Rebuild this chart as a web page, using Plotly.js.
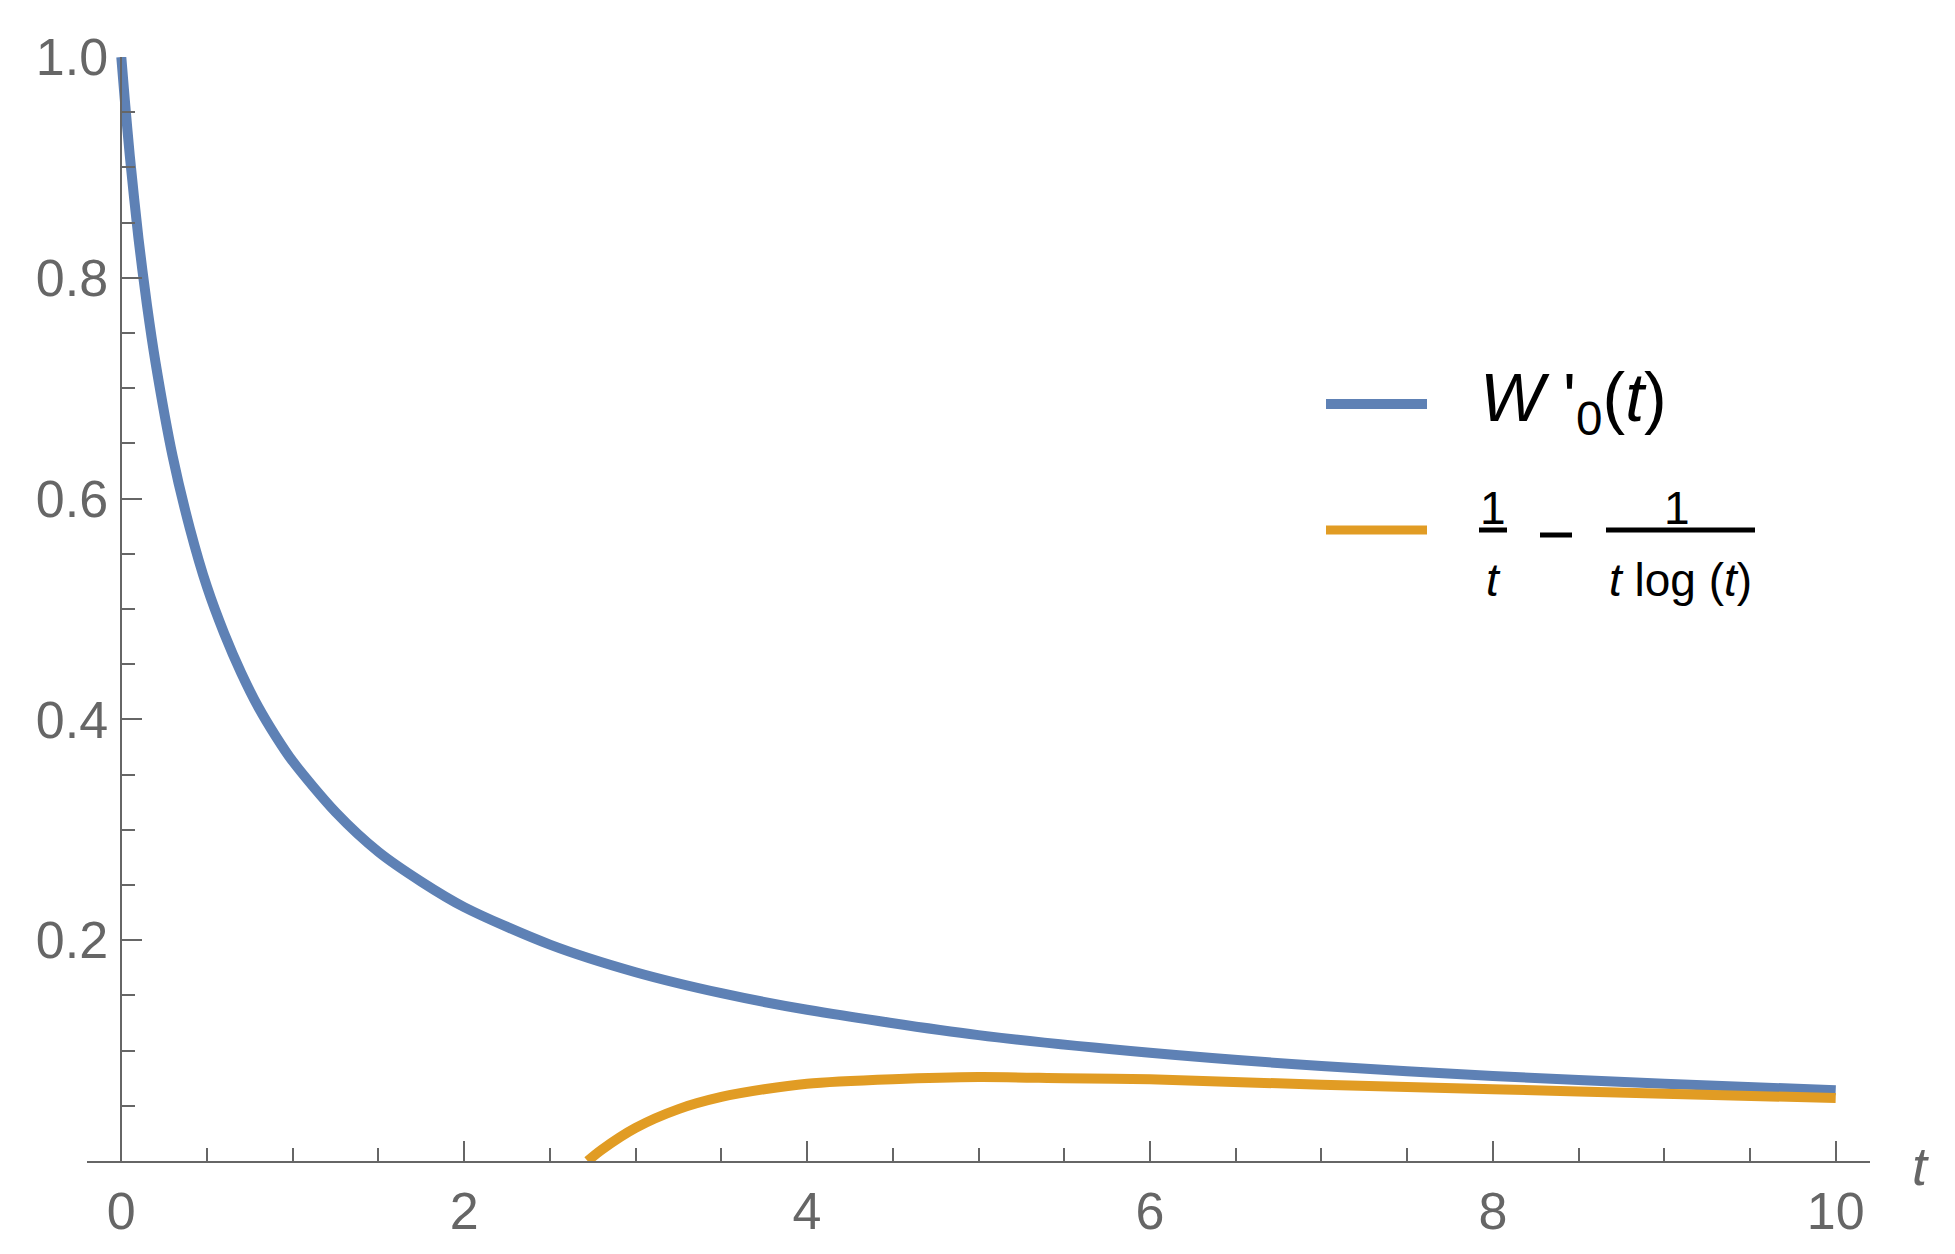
<!DOCTYPE html>
<html>
<head>
<meta charset="utf-8">
<script src="https://cdn.plot.ly/plotly-3.0.1.min.js"></script>
<style>
    body { margin: 0; background: #ffffff; }
    #chart { width: 1955px; height: 1254px; }
</style>
</head>
<body>
<div id="chart"></div>
<script>
// values
var tBlue = [0, 0.02, 0.05, 0.1, 0.15, 0.2, 0.3, 0.4, 0.5, 0.6, 0.7, 0.8, 0.9, 1.0, 1.25, 1.5, 1.75, 2, 2.5, 3, 3.5, 4, 5, 6, 7, 8, 9, 10];
var wBlue = [1.0, 0.962, 0.910, 0.836, 0.775, 0.723, 0.638, 0.573, 0.520, 0.478, 0.442, 0.411, 0.385, 0.362, 0.316, 0.280, 0.253, 0.230, 0.196, 0.171, 0.152, 0.137, 0.114, 0.098, 0.086, 0.077, 0.070, 0.064];

var tOrange = [2.72, 2.8, 3, 3.25, 3.5, 3.75, 4, 4.5, 5, 5.5, 6, 7, 8, 9, 10];
var fOrange = [0, 0.010, 0.030, 0.047, 0.058, 0.065, 0.070, 0.074, 0.076, 0.075, 0.074, 0.069, 0.065, 0.061, 0.057];

var xTicks = [0, 2, 4, 6, 8, 10];
var yTicks = [0.2, 0.4, 0.6, 0.8, 1.0];

var blueColor = '#5E81B5';
var orangeColor = '#E19C24';
var axisGray = '#666666';
var xRange = [-0.2, 10.2];

// plot area in pixels, used to place the hand-made legend
var plotLeft = 87, plotRight = 1870, plotTop = 57, plotBottom = 1161;

function px(x) {
    return (x - plotLeft) / (plotRight - plotLeft);
}

function py(y) {
    return (plotBottom - y) / (plotBottom - plotTop);
}

function legendLine(x0, x1, y, color, width) {
    return {
        type: 'line', xref: 'paper', yref: 'paper',
        x0: px(x0), x1: px(x1), y0: py(y), y1: py(y),
        line: {color: color, width: width}
    };
}

function legendText(x, y, text, size, anchor) {
    return {
        xref: 'paper', yref: 'paper', x: px(x), y: py(y),
        text: text, showarrow: false,
        xanchor: anchor || 'center', yanchor: 'middle',
        font: {family: 'Liberation Sans', size: size, color: '#000000'}
    };
}

var traceBlue = {
    x: tBlue,
    y: wBlue,
    mode: 'lines',
    line: {color: blueColor, width: 10, shape: 'spline', smoothing: 0.8},
    showlegend: false
};

var traceOrange = {
    x: tOrange,
    y: fOrange,
    mode: 'lines',
    line: {color: orangeColor, width: 10, shape: 'spline', smoothing: 0.8},
    showlegend: false
};

var tickFont = {family: 'Liberation Sans', size: 52, color: axisGray};

var layout = {
    width: 1955,
    height: 1254,
    margin: {l: plotLeft, r: 1955 - plotRight, t: plotTop, b: 1254 - plotBottom},
    paper_bgcolor: '#ffffff',
    plot_bgcolor: '#ffffff',
    showlegend: false,
    xaxis: {
        range: xRange,
        showgrid: false,
        zeroline: false,
        showline: true,
        linecolor: axisGray,
        linewidth: 1.5,
        ticks: 'inside',
        ticklen: 20,
        tickwidth: 1.5,
        tickcolor: axisGray,
        tickmode: 'array',
        tickvals: xTicks,
        ticktext: xTicks.map(String),
        tickfont: tickFont,
        ticklabelstandoff: 4,
        minor: {tickmode: 'linear', tick0: 0, dtick: 0.5, ticks: 'inside', ticklen: 13, tickwidth: 1.5, tickcolor: axisGray},
        automargin: false
    },
    yaxis: {
        range: [0, 1],
        anchor: 'free',
        position: (0 - xRange[0]) / (xRange[1] - xRange[0]),
        showgrid: false,
        zeroline: false,
        showline: true,
        linecolor: axisGray,
        linewidth: 1.5,
        ticks: 'inside',
        ticklen: 20,
        tickwidth: 1.5,
        tickcolor: axisGray,
        tickmode: 'array',
        tickvals: yTicks,
        ticktext: yTicks.map(function(v) { return v.toFixed(1); }),
        tickfont: tickFont,
        ticklabelstandoff: 2,
        minor: {tickmode: 'linear', tick0: 0, dtick: 0.05, ticks: 'inside', ticklen: 13, tickwidth: 1.5, tickcolor: axisGray},
        automargin: false
    },
    shapes: [
        legendLine(1326, 1427, 404, blueColor, 10),
        legendLine(1326, 1427, 530, orangeColor, 9),
        // fraction bars and minus sign
        legendLine(1479, 1507, 530, '#000000', 5),
        legendLine(1540, 1572, 535, '#000000', 5),
        legendLine(1606, 1755, 530, '#000000', 5)
    ],
    annotations: [
        legendText(1478, 402, "<i>W</i> '<sub>0</sub>(<i>t</i>)", 68, 'left'),
        legendText(1493, 508, '1', 46),
        legendText(1493, 580, '<i>t</i>', 46),
        legendText(1677, 508, '1', 46),
        legendText(1680, 580, '<i>t</i> log (<i>t</i>)', 46),
        {
            xref: 'paper', yref: 'paper', x: px(1920), y: py(1166),
            text: '<i>t</i>', showarrow: false, xanchor: 'center', yanchor: 'middle',
            font: {family: 'Liberation Sans', size: 54, color: axisGray}
        }
    ]
};

Plotly.newPlot('chart', [traceBlue, traceOrange], layout, {displayModeBar: false});
</script>
</body>
</html>
